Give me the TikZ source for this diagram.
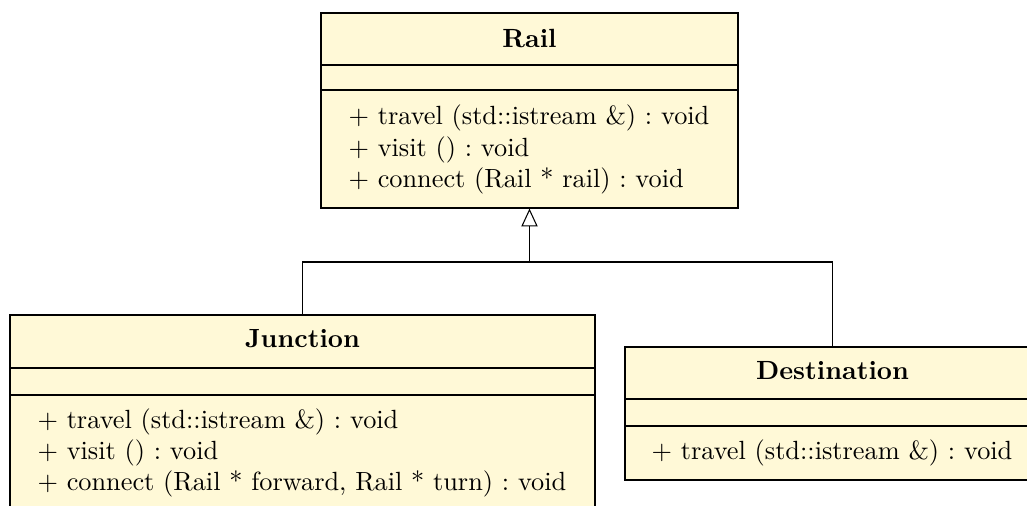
\documentclass[tikz,border=0pt]{standalone}
\usetikzlibrary{fit,arrows.meta}
\definecolor{classfill}{RGB}{255,249,215}
\frenchspacing
\tikzset{
  classbox/.style={draw=black, line width=0.45pt, fill=classfill, inner sep=0pt},
  divider/.style={draw=black, line width=0.45pt},
  title/.style={font=\bfseries, anchor=base, inner sep=0pt},
  member/.style={anchor=base west, inner sep=0pt},
  inh/.style={draw=black, line width=0.4pt, -{Triangle[open, length=6.8pt, width=6.2pt, fill=white]}},
  link/.style={draw=black, line width=0.4pt}
}
\begin{document}
\begin{tikzpicture}[x=0.38pt, y=-0.38pt]
\useasboundingbox (0,0) rectangle (1027,506);
\clip (0,0) rectangle (1027,506);
% Rail
\node[classbox, fit={(321,13) (738,208)}] (rail) {};
\draw[divider] (321,65) -- (738,65);
\draw[divider] (321,90) -- (738,90);
\node[title] (railt) at (529.5,48) {Rail};
\node[member] (railm1) at (348,125) {+ travel (std::istream \&) : void};
\node[member] (railm2) at (348,156.5) {+ visit () : void};
\node[member] (railm3) at (348,188) {+ connect (Rail * rail) : void};
% Junction
\node[classbox, fit={(10,315) (595,540)}] (junction) {};
\draw[divider] (10,368) -- (595,368);
\draw[divider] (10,395) -- (595,395);
\node[title] (junct) at (302.5,348) {Junction};
\node[member] (junm1) at (37,429) {+ travel (std::istream \&) : void};
\node[member] (junm2) at (37,460) {+ visit () : void};
\node[member] (junm3) at (37,491) {+ connect (Rail * forward, Rail * turn) : void};
% Destination
\node[classbox, fit={(625,347) (1040,480)}] (destination) {};
\draw[divider] (625,399) -- (1040,399);
\draw[divider] (625,426) -- (1040,426);
\node[title] (destt) at (832.5,380) {Destination};
\node[member] (destm1) at (651,460) {+ travel (std::istream \&) : void};
% Inheritance
\coordinate (bus) at (529.5,262);
\draw[link] (destination.north) |- (bus);
\draw[inh] (junction.north) |- (bus) -- (rail.south);
\end{tikzpicture}
\end{document}
